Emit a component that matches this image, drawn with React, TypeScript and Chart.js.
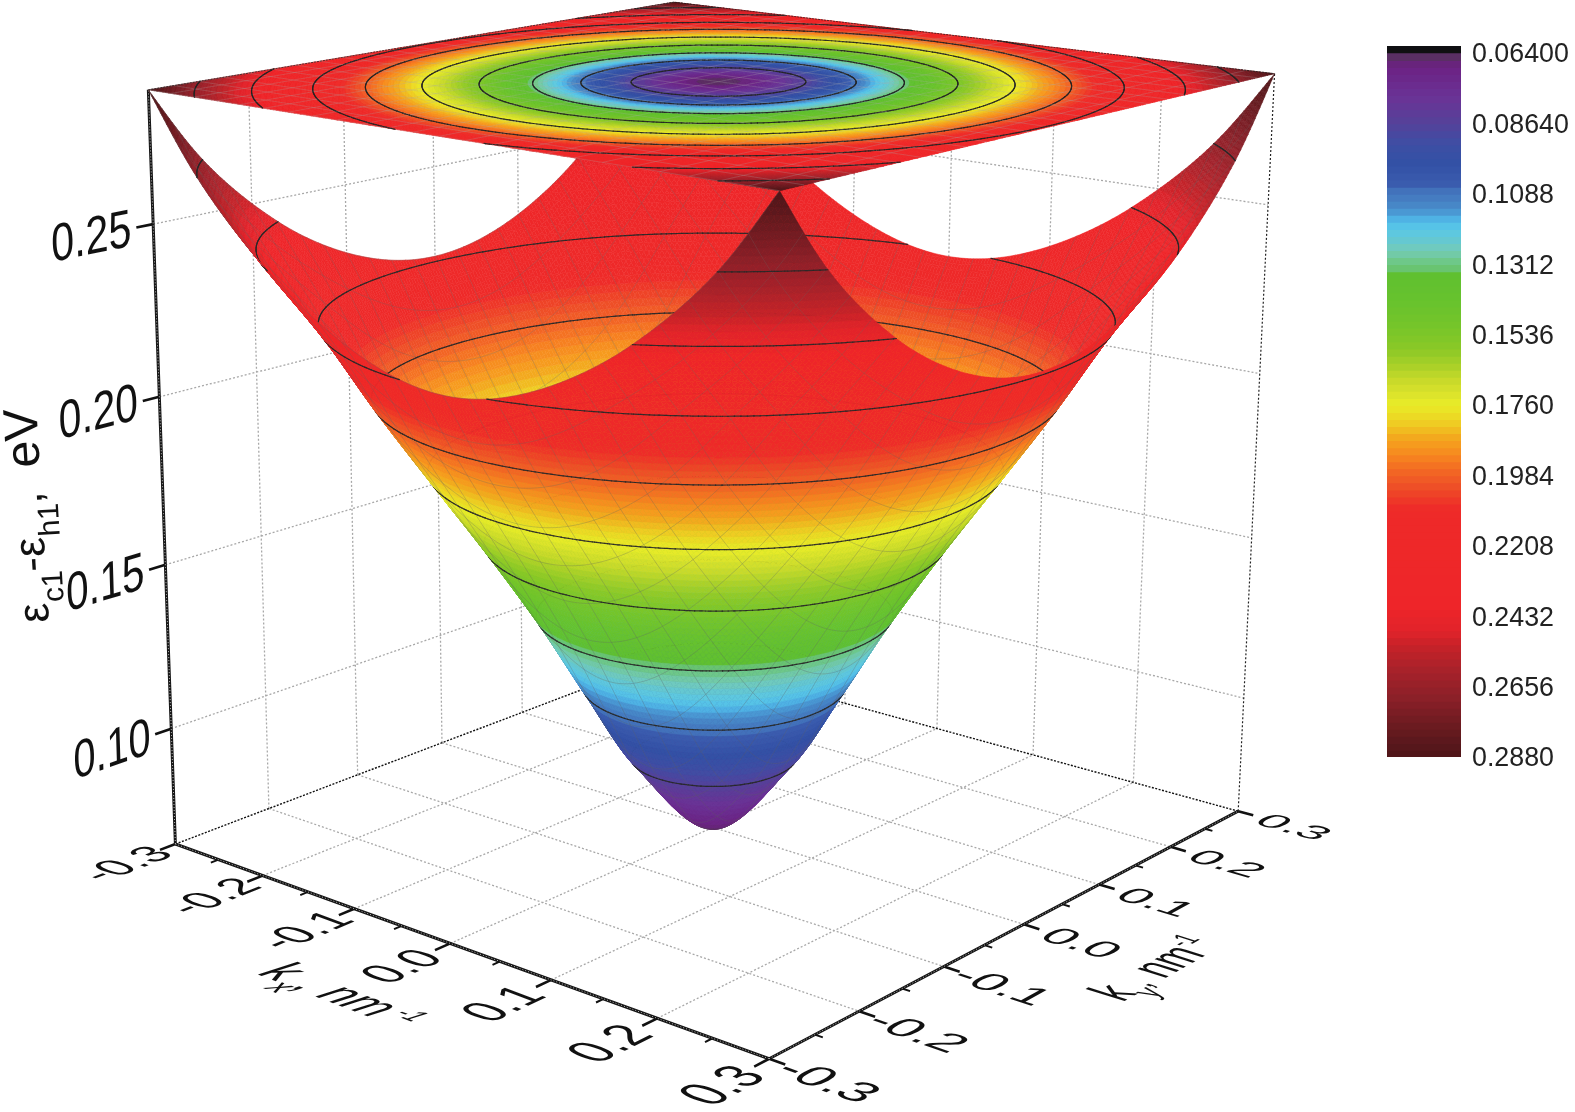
import React, { useEffect, useRef } from "react";
import { Chart, registerables } from "chart.js";

Chart.register(...registerables);

// ---- values ----
const kMajorTicks = [-0.3, -0.2, -0.1, 0.0, 0.1, 0.2, 0.3];
const kMinorTicks = [-0.25, -0.15, -0.05, 0.05, 0.15, 0.25];
const kTickLabels = ["-0.3", "-0.2", "-0.1", "0.0", "0.1", "0.2", "0.3"];
const zTicks = [0.1, 0.15, 0.2, 0.25];
const zTickLabels = ["0.10", "0.15", "0.20", "0.25"];
const zMin = 0.064;
const zMax = 0.288;

// radial profile of the surface: |k| and energy (contour rings)
const profileRadius = [0, 0.0656, 0.1033, 0.1394, 0.1794, 0.222, 0.264, 0.303, 0.348, 0.39, 0.4243];
const profileEnergy = [0.064, 0.0864, 0.1088, 0.1312, 0.1536, 0.176, 0.1984, 0.2208, 0.2432, 0.2656, 0.288];
const contourLevels = [0.0864, 0.1088, 0.1312, 0.1536, 0.176, 0.1984, 0.2208, 0.2432, 0.2656];
// the edges at kx = +-0.3 stand a little higher than those at ky = +-0.3
const kxEdgeLift = 0.038;

const colorbarTicks = [0.064, 0.0864, 0.1088, 0.1312, 0.1536, 0.176, 0.1984, 0.2208, 0.2432, 0.2656, 0.288];
const colorbarLabels = ["0.06400", "0.08640", "0.1088", "0.1312", "0.1536", "0.1760", "0.1984", "0.2208", "0.2432", "0.2656", "0.2880"];

const colorStopValues = [0.064, 0.0652, 0.068, 0.078, 0.0853, 0.0928, 0.099, 0.1055, 0.1077, 0.1119, 0.1147, 0.1166, 0.1195, 0.1236, 0.1268, 0.13, 0.1326, 0.134, 0.1418, 0.15, 0.1578, 0.163, 0.168, 0.1725, 0.1757, 0.179, 0.1827, 0.185, 0.1885, 0.192, 0.1955, 0.1986, 0.2025, 0.2056, 0.209, 0.24, 0.248, 0.252, 0.26, 0.268, 0.276, 0.283, 0.288];
const colorStopHex = ["#5a2f64", "#5a2f64", "#6c2183", "#6a3396", "#574099", "#3e4ea4", "#3351a5", "#3a5cae", "#4272bb", "#4785c6", "#4a9ad4", "#4fb2e4", "#58c8e8", "#66c8d0", "#74cbb5", "#6ec88a", "#68c46e", "#60c030", "#66c22e", "#74c52a", "#8ac827", "#a8d028", "#c8da2a", "#dce42b", "#e9ec28", "#ecdc24", "#f0c522", "#f2b01e", "#f69a1e", "#f6851f", "#f46f22", "#f05e26", "#ee4c27", "#ee3a28", "#ee2a29", "#ee2529", "#e0232a", "#c82229", "#a8222a", "#8e2029", "#721c22", "#5a181c", "#4f1518"];

// camera: box corners (kx, ky, z) and where they sit on the page
const cameraBox = [
  [-0.3, -0.3, zMin], [0.3, -0.3, zMin], [0.3, 0.3, zMin], [-0.3, 0.3, zMin],
  [-0.3, -0.3, zMax], [0.3, -0.3, zMax], [0.3, 0.3, zMax], [-0.3, 0.3, zMax],
];
const cameraPage = [
  [178, 844], [768, 1060], [1240.5, 808.6], [668, 657],
  [147.5, 88.4], [778.5, 191], [1274, 75], [676, 2],
];

const BAND = 0.00224;
const MESH = 192;
const MESH_LINE_EVERY = 8;
const FONT = '"Liberation Sans", Arial, sans-serif';

// ---- helpers ----
function solveCamera(): number[] {
  const rows: number[][] = [];
  const rhs: number[] = [];
  cameraBox.forEach((b, i) => {
    const X = [b[0] / 0.3, b[1] / 0.3, (b[2] - 0.176) / 0.112];
    const u = cameraPage[i][0] / 1000;
    const v = cameraPage[i][1] / 1000;
    rows.push([X[0], X[1], X[2], 1, 0, 0, 0, 0, -u * X[0], -u * X[1], -u * X[2]]);
    rhs.push(u);
    rows.push([0, 0, 0, 0, X[0], X[1], X[2], 1, -v * X[0], -v * X[1], -v * X[2]]);
    rhs.push(v);
  });
  const n = 11;
  const M: number[][] = [];
  for (let i = 0; i < n; i++) {
    const r = new Array(n + 1).fill(0);
    for (let j = 0; j < n; j++) for (let k = 0; k < rows.length; k++) r[j] += rows[k][i] * rows[k][j];
    for (let k = 0; k < rows.length; k++) r[n] += rows[k][i] * rhs[k];
    M.push(r);
  }
  for (let c = 0; c < n; c++) {
    let p = c;
    for (let r = c + 1; r < n; r++) if (Math.abs(M[r][c]) > Math.abs(M[p][c])) p = r;
    [M[c], M[p]] = [M[p], M[c]];
    for (let r = 0; r < n; r++) {
      if (r === c) continue;
      const f = M[r][c] / M[c][c];
      for (let j = c; j <= n; j++) M[r][j] -= f * M[c][j];
    }
  }
  return M.map((r, i) => r[n] / r[i]);
}
const cam = solveCamera();

function project(kx: number, ky: number, z: number): [number, number, number] {
  const a = kx / 0.3, b = ky / 0.3, c = (z - 0.176) / 0.112;
  const w = cam[8] * a + cam[9] * b + cam[10] * c + 1;
  return [
    (1000 * (cam[0] * a + cam[1] * b + cam[2] * c + cam[3])) / w,
    (1000 * (cam[4] * a + cam[5] * b + cam[6] * c + cam[7])) / w,
    w,
  ];
}

function energyAt(r: number): number {
  const R = profileRadius, E = profileEnergy;
  let i = 0;
  while (i < R.length - 2 && r > R[i + 1]) i++;
  const slope = (j: number) => {
    if (j === 0) return 0;
    if (j === R.length - 1) return (E[j] - E[j - 1]) / (R[j] - R[j - 1]);
    return (E[j + 1] - E[j - 1]) / (R[j + 1] - R[j - 1]);
  };
  const h = R[i + 1] - R[i];
  const t = (r - R[i]) / h;
  const t2 = t * t, t3 = t2 * t;
  return (2 * t3 - 3 * t2 + 1) * E[i] + (t3 - 2 * t2 + t) * h * slope(i) + (-2 * t3 + 3 * t2) * E[i + 1] + (t3 - t2) * h * slope(i + 1);
}

function surfaceEnergy(kx: number, ky: number): number {
  const r2 = kx * kx + ky * ky;
  if (r2 === 0) return profileEnergy[0];
  const d = Math.max(0, kx * kx - ky * ky);
  return energyAt(Math.min(profileRadius[profileRadius.length - 1], Math.sqrt(r2 + (kxEdgeLift * d * d) / r2)));
}

const rgbStops = colorStopHex.map((h) => [parseInt(h.slice(1, 3), 16), parseInt(h.slice(3, 5), 16), parseInt(h.slice(5, 7), 16)]);
function colorAt(e: number): string {
  const V = colorStopValues;
  if (e <= V[0]) return colorStopHex[0];
  if (e >= V[V.length - 1]) return colorStopHex[V.length - 1];
  let i = 0;
  while (e > V[i + 1]) i++;
  const t = (e - V[i]) / (V[i + 1] - V[i]);
  const c = rgbStops[i].map((x, k) => Math.round(x + (rgbStops[i + 1][k] - x) * t));
  return `rgb(${c[0]},${c[1]},${c[2]})`;
}
const bandCount = Math.round((zMax - zMin) / BAND);
const bandColors = Array.from({ length: bandCount }, (_, i) => colorAt(zMin + (i + 0.5) * BAND));
const bandIndex = (e: number) => Math.max(0, Math.min(bandCount - 1, Math.floor((e - zMin) / BAND)));

type Pt = { x: number; y: number };
const gap: Pt = { x: NaN, y: NaN };
function seg(list: Pt[], a: number[], b: number[]) {
  const p = project(a[0], a[1], a[2]);
  const q = project(b[0], b[1], b[2]);
  list.push({ x: p[0], y: p[1] }, { x: q[0], y: q[1] }, gap);
}

function buildLines() {
  const grid: Pt[] = [];
  const inner = kMajorTicks.slice(1, -1);
  inner.forEach((t) => {
    seg(grid, [t, -0.3, zMin], [t, 0.3, zMin]);
    seg(grid, [-0.3, t, zMin], [0.3, t, zMin]);
    seg(grid, [-0.3, t, zMin], [-0.3, t, zMax]);
    seg(grid, [t, 0.3, zMin], [t, 0.3, zMax]);
  });
  zTicks.forEach((z) => {
    seg(grid, [-0.3, -0.3, z], [-0.3, 0.3, z]);
    seg(grid, [-0.3, 0.3, z], [0.3, 0.3, z]);
  });
  seg(grid, [-0.3, 0.3, zMin], [-0.3, 0.3, zMax]);

  const back: Pt[] = [];
  seg(back, [-0.3, -0.3, zMin], [-0.3, 0.3, zMin]);
  seg(back, [0.3, 0.3, zMin], [-0.3, 0.3, zMin]);

  const right: Pt[] = [];
  seg(right, [0.3, 0.3, zMin], [0.3, 0.3, zMax]);

  const axes: Pt[] = [];
  seg(axes, [-0.3, -0.3, zMin], [0.3, -0.3, zMin]);
  seg(axes, [0.3, -0.3, zMin], [0.3, 0.3, zMin]);
  seg(axes, [-0.3, -0.3, zMin], [-0.3, -0.3, zMax]);

  const major: Pt[] = [];
  kMajorTicks.forEach((t) => {
    seg(major, [t, -0.3, zMin], [t, -0.316, zMin]);
    seg(major, [0.3, t, zMin], [0.314, t, zMin]);
  });
  zTicks.forEach((z) => seg(major, [-0.3, -0.3, z], [-0.3, -0.3165, z]));

  const minor: Pt[] = [];
  kMinorTicks.forEach((t) => {
    seg(minor, [t, -0.3, zMin], [t, -0.308, zMin]);
    seg(minor, [0.3, t, zMin], [0.307, t, zMin]);
  });
  return { grid, back, right, axes, major, minor };
}

type Item = { key: number; kind: number; style: string; p: number[] };

// keep the part of a polygon (x, y, e triples) on one side of an energy level
function clipByEnergy(poly: number[], level: number, keepAbove: boolean): number[] {
  const out: number[] = [];
  const n = poly.length / 3;
  for (let i = 0; i < n; i++) {
    const a = i * 3, b = ((i + 1) % n) * 3;
    const ea = poly[a + 2], eb = poly[b + 2];
    const ina = keepAbove ? ea >= level : ea <= level;
    const inb = keepAbove ? eb >= level : eb <= level;
    if (ina) out.push(poly[a], poly[a + 1], ea);
    if (ina !== inb) {
      const t = (level - ea) / (eb - ea);
      out.push(poly[a] + (poly[b] - poly[a]) * t, poly[a + 1] + (poly[b + 1] - poly[a + 1]) * t, level);
    }
  }
  return out;
}

function buildSurface(flat: boolean, px: (x: number) => number, py: (y: number) => number) {
  const n = MESH + 1;
  const X = new Float64Array(n * n), Y = new Float64Array(n * n), W = new Float64Array(n * n), E = new Float64Array(n * n);
  for (let i = 0; i < n; i++) {
    for (let j = 0; j < n; j++) {
      const kx = -0.3 + (0.6 * i) / MESH;
      const ky = -0.3 + (0.6 * j) / MESH;
      const e = surfaceEnergy(kx, ky);
      const q = project(kx, ky, flat ? zMax : e);
      const id = i * n + j;
      X[id] = px(q[0]);
      Y[id] = py(q[1]);
      W[id] = q[2];
      E[id] = e;
    }
  }
  let eps = 0;
  for (let i = 0; i < MESH; i++) {
    for (let j = 0; j < MESH; j++) {
      const a = i * n + j;
      const s = [W[a], W[a + 1], W[a + n], W[a + n + 1]];
      eps = Math.max(eps, Math.max(...s) - Math.min(...s));
    }
  }
  eps *= 1.3;
  const fills: Item[] = [];
  const lines: Item[] = [];
  const meshStyle = flat ? "rgba(170,170,170,0.32)" : "rgba(95,95,95,0.34)";
  const contourStyle = flat ? "rgba(35,35,35,0.9)" : "rgba(40,40,40,0.9)";
  for (let i = 0; i < MESH; i++) {
    for (let j = 0; j < MESH; j++) {
      const a = i * n + j, b = a + 1, c = a + n + 1, d = a + n;
      const key = (W[a] + W[b] + W[c] + W[d]) / 4;
      const ring = [a, b, c, d];
      const ev = ring.map((v) => E[v]);
      const lo = bandIndex(Math.min(...ev));
      const hi = bandIndex(Math.max(...ev));
      if (lo === hi) {
        fills.push({ key, kind: 0, style: bandColors[lo], p: [X[a], Y[a], X[b], Y[b], X[c], Y[c], X[d], Y[d]] });
      } else {
        const poly: number[] = [];
        ring.forEach((v) => poly.push(X[v], Y[v], E[v]));
        for (let band = lo; band <= hi; band++) {
          let piece = poly;
          if (band > lo) piece = clipByEnergy(piece, zMin + band * BAND, true);
          if (band < hi) piece = clipByEnergy(piece, zMin + (band + 1) * BAND, false);
          if (piece.length < 9) continue;
          const p: number[] = [];
          for (let m = 0; m < piece.length; m += 3) p.push(piece[m], piece[m + 1]);
          fills.push({ key, kind: 0, style: bandColors[band], p });
        }
      }
      if (i % MESH_LINE_EVERY === 0) lines.push({ key: key - eps, kind: 1, style: meshStyle, p: [X[a], Y[a], X[b], Y[b]] });
      if (j % MESH_LINE_EVERY === 0) lines.push({ key: key - eps, kind: 1, style: meshStyle, p: [X[a], Y[a], X[d], Y[d]] });
      for (const level of contourLevels) {
        const cross: number[] = [];
        for (let m = 0; m < 4; m++) {
          const u = ring[m], v = ring[(m + 1) % 4];
          if ((E[u] < level) !== (E[v] < level)) {
            const t = (level - E[u]) / (E[v] - E[u]);
            cross.push(X[u] + (X[v] - X[u]) * t, Y[u] + (Y[v] - Y[u]) * t);
          }
        }
        if (cross.length >= 4) lines.push({ key: key - eps, kind: 2, style: contourStyle, p: cross.slice(0, 4) });
      }
    }
  }
  const items = fills.concat(lines);
  if (flat) return items;
  items.sort((p, q) => q.key - p.key);
  return items;
}

function paintItems(ctx: CanvasRenderingContext2D, items: Item[]) {
  ctx.lineJoin = "round";
  for (const it of items) {
    const p = it.p;
    ctx.beginPath();
    ctx.moveTo(p[0], p[1]);
    if (it.kind === 0) {
      for (let m = 2; m < p.length; m += 2) ctx.lineTo(p[m], p[m + 1]);
      ctx.closePath();
      ctx.fillStyle = it.style;
      ctx.strokeStyle = it.style;
      ctx.lineWidth = 0.5;
      ctx.lineCap = "butt";
      ctx.fill();
      ctx.stroke();
    } else {
      ctx.lineTo(p[2], p[3]);
      ctx.strokeStyle = it.style;
      ctx.lineWidth = it.kind === 2 ? 1.2 : 0.8;
      ctx.lineCap = it.kind === 2 ? "round" : "butt";
      ctx.stroke();
    }
  }
}

function unit(v: number[]) {
  const l = Math.hypot(v[0], v[1]);
  return [v[0] / l, v[1] / l];
}
// page pixels per unit of k along an axis of the floor
function floorAxis(kx: number, ky: number, dkx: number, dky: number) {
  const a = project(kx, ky, zMin), b = project(kx + dkx * 0.01, ky + dky * 0.01, zMin);
  return [(b[0] - a[0]) / 0.01, (b[1] - a[1]) / 0.01];
}

const S = 40;
type Piece = { t: string; size: number; dy: number };
function drawPieces(ctx: CanvasRenderingContext2D, pieces: Piece[], style: string, ax: number[], ay: number[], ox: number, oy: number, center: boolean) {
  ctx.save();
  ctx.setTransform(ax[0] / S, ax[1] / S, ay[0] / S, ay[1] / S, ox, oy);
  ctx.fillStyle = "#111";
  ctx.textBaseline = "alphabetic";
  ctx.textAlign = "left";
  let total = 0;
  const widths = pieces.map((pc) => {
    ctx.font = `${style} ${S * pc.size}px ${FONT}`;
    const w = ctx.measureText(pc.t).width;
    total += w;
    return w;
  });
  let x = center ? -total / 2 : 0;
  pieces.forEach((pc, i) => {
    ctx.font = `${style} ${S * pc.size}px ${FONT}`;
    ctx.fillText(pc.t, x, (center ? S * 0.36 : 0) + S * pc.dy);
    x += widths[i];
  });
  ctx.restore();
}

const surfacePlugin = {
  id: "surface3d",
  afterDatasetsDraw(chart: any) {
    const ctx: CanvasRenderingContext2D = chart.ctx;
    const px = (v: number) => chart.scales.x.getPixelForValue(v);
    const py = (v: number) => chart.scales.y.getPixelForValue(v);
    ctx.save();
    paintItems(ctx, buildSurface(false, px, py));
    paintItems(ctx, buildSurface(true, px, py));
    // back rim of the top map
    ctx.strokeStyle = "rgba(30,30,30,0.7)";
    ctx.lineWidth = 1;
    ctx.setLineDash([2, 1]);
    ctx.beginPath();
    const a = project(-0.3, -0.3, zMax), b = project(-0.3, 0.3, zMax), c = project(0.3, 0.3, zMax);
    ctx.moveTo(px(a[0]), py(a[1]));
    ctx.lineTo(px(b[0]), py(b[1]));
    ctx.lineTo(px(c[0]), py(c[1]));
    ctx.stroke();
    ctx.setLineDash([]);
    ctx.restore();

    // tick labels lying in the floor plane
    kMajorTicks.forEach((t, i) => {
      const p = project(t, -0.352, zMin);
      const b1 = floorAxis(t, -0.352, 0, 1), d1 = floorAxis(t, -0.352, 1, 0);
      drawPieces(ctx, [{ t: kTickLabels[i], size: 1, dy: 0 }], "normal", [b1[0] * 0.043, b1[1] * 0.043], [d1[0] * 0.048, d1[1] * 0.048], px(p[0]), py(p[1]), true);
      const q = project(0.352, t, zMin);
      const b2 = floorAxis(0.352, t, 1, 0), d2 = floorAxis(0.352, t, 0, -1);
      drawPieces(ctx, [{ t: kTickLabels[i], size: 1, dy: 0 }], "normal", [b2[0] * 0.043, b2[1] * 0.043], [d2[0] * 0.042, d2[1] * 0.042], px(q[0]), py(q[1]), true);
    });

    // z tick labels
    zTicks.forEach((z, i) => {
      const a0 = project(-0.3, -0.36, z), a1 = project(-0.3, -0.3, z);
      const u = unit([a1[0] - a0[0], a1[1] - a0[1]]);
      drawPieces(ctx, [{ t: zTickLabels[i], size: 1, dy: -0.04 }], "normal", [u[0] * 42, u[1] * 42], [0.03 * 53, 53], px(a0[0]), py(a0[1]), true);
    });

    // axis titles
    const bx = floorAxis(0, -0.4, 1, 0), dx = floorAxis(0, -0.4, 0, -1);
    drawPieces(ctx, [
      { t: "k", size: 1, dy: 0 },
      { t: "x", size: 0.65, dy: 0.3 },
      { t: ",", size: 1, dy: 0 },
      { t: " nm", size: 1, dy: 0 },
      { t: " -1", size: 0.55, dy: -0.3 },
    ], "italic", [bx[0] * 0.042, bx[1] * 0.042], [dx[0] * 0.046, dx[1] * 0.046], px(345), py(994), true);

    const by = floorAxis(0.4, 0, 0, 1), dy = floorAxis(0.4, 0, 1, 0);
    drawPieces(ctx, [
      { t: "k", size: 1, dy: 0 },
      { t: "y", size: 0.65, dy: 0.3 },
      { t: ",", size: 0.8, dy: 0 },
      { t: " nm", size: 1, dy: 0 },
      { t: "-1", size: 0.55, dy: -0.4 },
    ], "normal", [by[0] * 0.041, by[1] * 0.041], [dy[0] * 0.046, dy[1] * 0.046], px(1153), py(968), true);

    const th = (-93.4 * Math.PI) / 180;
    drawPieces(ctx, [
      { t: "\u03b5", size: 1, dy: 0 },
      { t: "c1", size: 0.68, dy: 0.36 },
      { t: "-", size: 1, dy: 0 },
      { t: "\u03b5", size: 1, dy: 0 },
      { t: "h1", size: 0.68, dy: 0.36 },
      { t: ",  ", size: 1, dy: 0 },
      { t: "eV", size: 1.1, dy: 0 },
    ], "normal", [Math.cos(th) * 44, Math.sin(th) * 44], [-Math.sin(th) * 44, Math.cos(th) * 44], px(49), py(622), false);
  },
};

export default function App() {
  const mainRef = useRef<HTMLCanvasElement>(null);
  const barRef = useRef<HTMLCanvasElement>(null);

  useEffect(() => {
    const l = buildLines();
    const line = (data: Pt[], color: string, width: number, dash: number[]) => ({
      type: "line" as const,
      data,
      borderColor: color,
      borderWidth: width,
      borderDash: dash,
      pointRadius: 0,
      showLine: true,
      spanGaps: false,
      tension: 0,
      fill: false,
    });
    const chart = new Chart(mainRef.current!, {
      type: "scatter",
      data: {
        datasets: [
          line(l.axes, "#b9b9b9", 1, [1, 2]),
          line(l.major, "#111111", 2.6, []),
          line(l.minor, "#111111", 2, []),
          line(l.axes, "#161616", 3, []),
          line(l.right, "#222222", 1.2, [2, 2]),
          line(l.back, "#111111", 1.4, [2, 1.5]),
          line(l.grid, "#a8a8a8", 1.3, [2, 2]),
        ] as any,
      },
      options: {
        responsive: false,
        animation: false,
        layout: { padding: 0 },
        plugins: { legend: { display: false }, tooltip: { enabled: false } },
        events: [],
        scales: {
          x: { type: "linear", min: 0, max: 1575, display: false },
          y: { type: "linear", min: 0, max: 1112, reverse: true, display: false },
        },
      },
      plugins: [surfacePlugin],
    });

    const blackTop = 0.0618;
    const bands = bandColors.map((color, i) => ({
      label: `band ${i}`,
      data: [[zMin + i * BAND, Math.min(zMax, zMin + (i + 1) * BAND + 0.0002)]],
      backgroundColor: color,
      borderWidth: 0,
      barPercentage: 1,
      categoryPercentage: 1,
    }));
    const colorbar = new Chart(barRef.current!, {
      type: "bar",
      data: {
        labels: [""],
        datasets: [
          { label: "above", data: [[blackTop, zMin]], backgroundColor: "#101012", borderWidth: 0, barPercentage: 1, categoryPercentage: 1 },
          ...bands,
        ] as any,
      },
      options: {
        responsive: false,
        animation: false,
        layout: { padding: { top: 16, bottom: 33, left: 7, right: 0 } },
        plugins: { legend: { display: false }, tooltip: { enabled: false } },
        events: [],
        scales: {
          x: { stacked: true, display: false },
          y: {
            type: "linear",
            stacked: false,
            position: "right",
            reverse: true,
            min: blackTop,
            max: zMax,
            grid: { display: false, drawTicks: false },
            border: { display: false },
            afterFit: (a: any) => {
              a.width = 114;
              a.paddingTop = 0;
              a.paddingBottom = 0;
            },
            afterBuildTicks: (a: any) => {
              a.ticks = colorbarTicks.map((value) => ({ value }));
            },
            ticks: {
              autoSkip: false,
              padding: 11,
              maxRotation: 0,
              labelOffset: 2,
              color: "#222222",
              font: { family: FONT, size: 26.8 },
              callback: (v: any) => {
                const i = colorbarTicks.findIndex((t) => Math.abs(t - v) < 1e-6);
                return i >= 0 ? colorbarLabels[i] : "";
              },
            },
          },
        },
      },
    });
    return () => {
      chart.destroy();
      colorbar.destroy();
    };
  }, []);

  return (
    <div style={{ position: "absolute", left: 0, top: 0, width: 1575, height: 1112, overflow: "hidden", background: "#fff" }}>
      <canvas ref={mainRef} width={1575} height={1112} style={{ position: "absolute", left: 0, top: 0, display: "block" }} />
      <canvas ref={barRef} width={195} height={760} style={{ position: "absolute", left: 1380, top: 30, display: "block" }} />
    </div>
  );
}
